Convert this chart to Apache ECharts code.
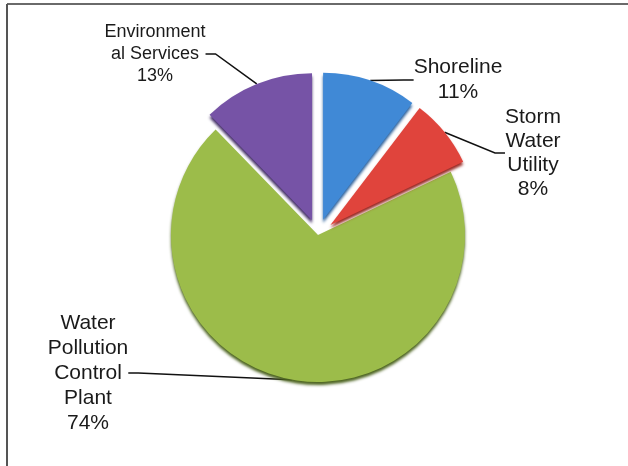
<!DOCTYPE html>
<html>
<head>
<meta charset="utf-8">
<script src="https://cdn.jsdelivr.net/npm/echarts@6/dist/echarts.min.js"></script>
<style>
  html, body { margin: 0; padding: 0; background: #fff; }
  #chart { width: 628px; height: 466px; }
</style>
</head>
<body>
<div id="chart"></div>
<script>
// Budget share by division
const categories = ['Shoreline', 'Storm\nWater\nUtility', 'Water\nPollution\nControl\nPlant', 'Environment\nal Services'];
const shares = [11, 8, 74, 13];
const exploded = [true, true, false, true];
const colors = ['#4089d6', '#e0443c', '#9cbc4a', '#7653a6'];
const edgeColors = ['#2a5f9a', '#9a2a25', '#4d6420', '#3f2a63'];

// layout constants
const CX = 318, CY = 235, R = 147, EXPLODE = 16;
const labelPos = [[458, 80], [533, 153], [88, 373], [155, 54]];
const labelSize = [21, 21, 21, 18];
const labelLH = [25, 24, 25, 22];

const chart = echarts.init(document.getElementById('chart'), null, { renderer: 'canvas' });

// one pie layer per slice so exploded slices can be pushed out along their mid-angle
const total = shares.reduce((a, b) => a + b, 0);
let acc = 0;
const series = shares.map((v, k) => {
  const mid = (acc + v / 2) / total * Math.PI * 2; // clockwise from 12 o'clock
  acc += v;
  const off = exploded[k] ? EXPLODE : 0;
  const center = [CX + off * Math.sin(mid), CY - off * Math.cos(mid)];
  return {
    type: 'pie',
    center: center,
    radius: R,
    startAngle: 90,
    clockwise: true,
    silent: true,
    avoidLabelOverlap: false,
    z: k === 2 ? 1 : 2,
    data: categories.map((name, i) => ({
      name: name,
      value: shares[i],
      itemStyle: i === k ? {
        color: colors[i],
        shadowColor: edgeColors[i],
        shadowBlur: 3,
        shadowOffsetY: 3
      } : { color: 'rgba(0,0,0,0)' },
      label: i === k
        ? { show: true, fontSize: labelSize[i], lineHeight: labelLH[i] }
        : { show: false },
      labelLine: { show: i === k }
    })),
    label: {
      position: 'outside',
      formatter: '{b}\n{c}%',
      fontFamily: 'Liberation Sans, Arial, sans-serif',
      color: '#1a1a1a',
      align: 'center'
    },
    labelLine: {
      length: 15,
      length2: 10,
      lineStyle: { color: '#111', width: 1.5 }
    },
    labelLayout: function (p) {
      const pos = labelPos[p.dataIndex];
      return { x: pos[0], y: pos[1], align: 'center', verticalAlign: 'middle' };
    },
    emphasis: { disabled: true }
  };
});

chart.setOption({
  animation: false,
  backgroundColor: '#ffffff',
  graphic: [
    { type: 'line', shape: { x1: 7, y1: 4, x2: 628, y2: 4 }, style: { stroke: '#6a6a6a', lineWidth: 2 } },
    { type: 'line', shape: { x1: 7, y1: 4, x2: 7, y2: 466 }, style: { stroke: '#555555', lineWidth: 2 } }
  ],
  series: series
});
</script>
</body>
</html>
